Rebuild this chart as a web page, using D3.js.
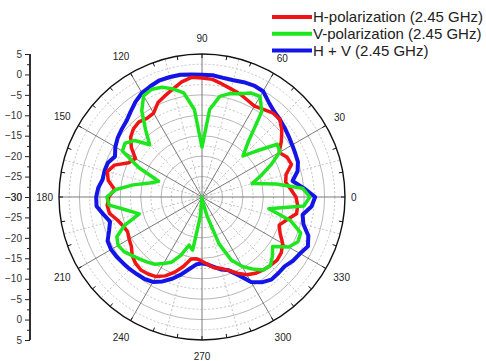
<!DOCTYPE html>
<html>
<head>
<meta charset="utf-8">
<script src="https://cdnjs.cloudflare.com/ajax/libs/d3/7.8.5/d3.min.js"></script>
<style>
  body { margin: 0; background: #fff; }
  svg { font-family: "Liberation Sans", Arial, sans-serif; }
  .raxis path, .raxis line { stroke: #222; }
  .raxis text { fill: #333; font-size: 10px; }
</style>
</head>
<body>
<div id="chart"></div>
<script>
// angle (deg) of every sample
var angles = d3.range(0, 360, 5);

// gain in dB, one value per 5 deg
var hPol = [-7.0,-8.2,-9.2,-8.7,-6.7,-7.0,-8.2,-6.3,-4.5,-3.1,-3.1,-3.8,-4.3,-3.8,-3.1,-2.6,-1.9,-1.1,
            -0.9,-0.6,-1.4,-2.6,-3.6,-4.5,-6.3,-6.5,-6.0,-6.3,-7.2,-8.9,-11.2,-10.2,-7.2,-6.0,-6.7,-8.5,
            -7.2,-6.7,-7.0,-8.5,-9.4,-9.9,-9.4,-8.9,-7.7,-7.0,-6.7,-7.0,-7.5,-8.7,-10.4,-12.4,-14.6,-14.8,
            -14.3,-13.4,-12.4,-11.9,-10.9,-9.4,-8.0,-7.2,-6.7,-6.3,-6.0,-6.3,-7.2,-8.9,-9.9,-8.5,-6.5,-6.5];
var vPol = [-3.6,-5.3,-11.6,-17.3,-14.6,-11.4,-8.0,-7.5,-12.4,-15.8,-12.4,-4.5,-1.6,-1.9,-3.1,-3.8,-5.0,-8.5,
            -17.8,-8.5,-4.1,-2.6,-1.4,-0.9,-1.4,-4.3,-8.5,-11.9,-8.5,-7.0,-7.5,-12.9,-18.7,-16.8,-12.9,-8.9,
            -6.7,-7.2,-11.4,-14.1,-9.9,-7.0,-6.3,-6.7,-7.7,-8.5,-9.2,-9.9,-11.2,-12.4,-14.8,-17.8,-16.8,-25.1,
            -30.0,-29.3,-28.5,-25.1,-17.8,-12.9,-10.4,-8.5,-6.7,-6.3,-7.5,-8.9,-5.5,-4.1,-4.3,-7.5,-13.4,-5.0];
var hvSum = [-2.3,-5.0,-7.5,-5.8,-5.0,-4.8,-4.5,-4.1,-3.6,-3.1,-2.6,-1.6,-0.1,0.1,-0.1,-0.4,-0.4,-0.1,
             -0.1,0.1,0.4,0.4,0.4,-0.1,-0.6,-1.6,-2.8,-3.8,-4.3,-4.8,-5.5,-6.5,-5.5,-5.3,-5.3,-4.5,
             -4.1,-4.1,-5.5,-6.7,-5.8,-4.5,-4.3,-4.5,-4.8,-5.0,-5.3,-5.5,-6.0,-7.2,-8.7,-10.4,-12.1,-13.4,
             -13.8,-13.4,-12.6,-11.6,-10.9,-8.9,-6.0,-4.5,-3.6,-3.6,-3.6,-2.8,-2.3,-1.4,-2.3,-4.3,-5.0,-3.1];

var seriesNames = ["H-polarization (2.45 GHz)", "V-polarization (2.45 GHz)", "H + V (2.45 GHz)"];
var angleTicks = d3.range(0, 360, 30);
var dbTicks = [5, 0, -5, -10, -15, -20, -25, -30];

var colors = ["#f01414", "#1ee61e", "#1414e6"];

var width = 486, height = 361;
var cx = 202, cy = 197, R = 143;

var svg = d3.select("#chart").append("svg")
  .attr("width", width)
  .attr("height", height);

var r = d3.scaleLinear().domain([-30, 5]).range([0, R]).clamp(true);
var rad = function(deg) { return deg * Math.PI / 180; };

var g = svg.append("g").attr("transform", "translate(" + cx + "," + cy + ")");

// grid circles
g.selectAll(".minorCircle")
  .data(d3.range(-27.5, 5, 5))
  .enter().append("circle")
  .attr("r", r)
  .attr("fill", "none")
  .attr("stroke", "#c4c4c4")
  .attr("stroke-dasharray", "2,2");

g.selectAll(".majorCircle")
  .data(d3.range(-25, 5, 5))
  .enter().append("circle")
  .attr("r", r)
  .attr("fill", "none")
  .attr("stroke", "#b8b8b8");

// spokes
g.selectAll(".minorSpoke")
  .data(d3.range(15, 360, 30))
  .enter().append("line")
  .attr("x2", function(d) { return R * Math.cos(rad(d)); })
  .attr("y2", function(d) { return -R * Math.sin(rad(d)); })
  .attr("stroke", "#c4c4c4")
  .attr("stroke-dasharray", "2,2");

g.selectAll(".majorSpoke")
  .data(angleTicks)
  .enter().append("line")
  .attr("x2", function(d) { return R * Math.cos(rad(d)); })
  .attr("y2", function(d) { return -R * Math.sin(rad(d)); })
  .attr("stroke", "#7a7a7a");

// outer ring with ticks
g.append("circle")
  .attr("r", R)
  .attr("fill", "none")
  .attr("stroke", "#111")
  .attr("stroke-width", 1.4);

g.selectAll(".ringTick")
  .data(d3.range(0, 360, 10))
  .enter().append("line")
  .attr("x1", function(d) { return R * Math.cos(rad(d)); })
  .attr("y1", function(d) { return -R * Math.sin(rad(d)); })
  .attr("x2", function(d) { return (R - 4) * Math.cos(rad(d)); })
  .attr("y2", function(d) { return -(R - 4) * Math.sin(rad(d)); })
  .attr("stroke", "#111");

// angle labels
function labelOffset(d) {
  var w = String(d).length * 5.6;
  return R + 6 + (w / 2) * Math.abs(Math.cos(rad(d))) + 10 * Math.abs(Math.sin(rad(d)));
}
g.selectAll(".angleLabel")
  .data(angleTicks)
  .enter().append("text")
  .attr("x", function(d) { return labelOffset(d) * Math.cos(rad(d)); })
  .attr("y", function(d) { return -labelOffset(d) * Math.sin(rad(d)); })
  .attr("dy", "0.35em")
  .attr("text-anchor", "middle")
  .attr("font-size", 10)
  .attr("fill", "#222")
  .text(function(d) { return d; });

// pattern curves
var line = d3.lineRadial()
  .angle(function(d, i) { return rad(90 - angles[i]); })
  .radius(function(d) { return r(d); })
  .curve(d3.curveLinearClosed);

var drawOrder = [2, 0, 1];
var allSeries = [hPol, vPol, hvSum];
drawOrder.forEach(function(k) {
  g.append("path")
    .datum(allSeries[k])
    .attr("d", line)
    .attr("fill", "none")
    .attr("stroke", colors[k])
    .attr("stroke-width", k === 2 ? 4 : 3.5)
    .attr("stroke-linejoin", "round");
});

// radial axis on the left, mirrored around the centre
var yTop = d3.scaleLinear().domain([-30, 5]).range([cy, cy - R]);
var yBot = d3.scaleLinear().domain([-30, 5]).range([cy, cy + R]);
var axX = 30;

[yTop, yBot].forEach(function(s) {
  svg.append("g")
    .attr("class", "raxis")
    .attr("transform", "translate(" + axX + ",0)")
    .call(d3.axisLeft(s).tickValues(d3.range(-27.5, 5, 5)).tickSize(3).tickFormat(""));
  svg.append("g")
    .attr("class", "raxis")
    .attr("transform", "translate(" + axX + ",0)")
    .call(d3.axisLeft(s).tickValues(dbTicks).tickSize(5).tickPadding(3));
});
svg.selectAll(".raxis .domain").attr("d", "M0," + (cy - R) + "V" + (cy + R));

// legend
var legend = svg.append("g").attr("transform", "translate(272,17)");
seriesNames.forEach(function(name, i) {
  var row = legend.append("g").attr("transform", "translate(0," + (i * 16.7) + ")");
  row.append("line")
    .attr("x1", 0).attr("x2", 40)
    .attr("stroke", colors[i])
    .attr("stroke-width", 4);
  row.append("text")
    .attr("x", 41)
    .attr("dy", "0.36em")
    .attr("font-size", 15)
    .attr("fill", "#222")
    .text(name);
});
</script>
</body>
</html>
